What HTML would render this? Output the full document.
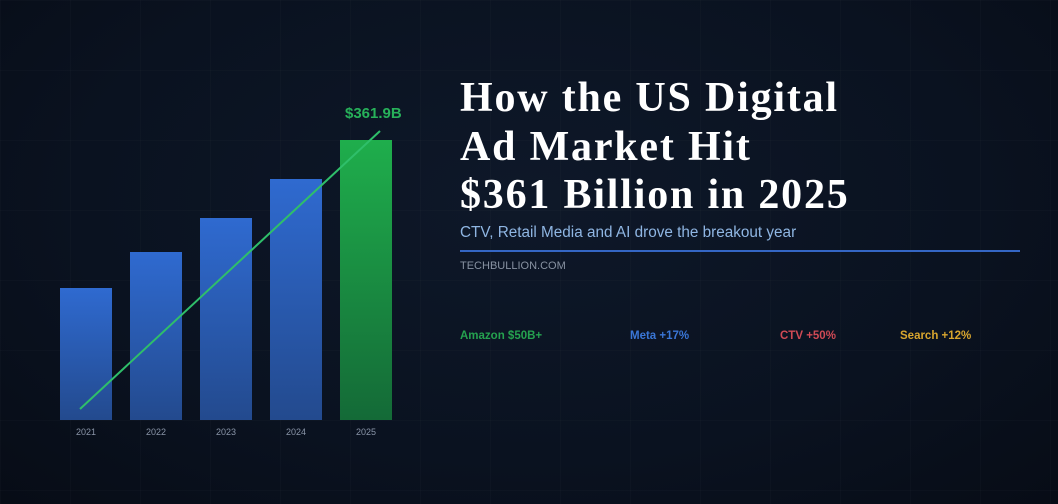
<!DOCTYPE html>
<html><head><meta charset="utf-8"><style>
html,body{margin:0;padding:0}
body{width:1058px;height:504px;overflow:hidden;position:relative;font-family:"Liberation Sans",sans-serif;
background:radial-gradient(ellipse at 50% 40%,#0e1829 0%,#0a1220 60%,#070c16 100%);}
.grid{position:absolute;inset:0;background-image:linear-gradient(rgba(255,255,255,0.015) 1px,transparent 1px),linear-gradient(90deg,rgba(255,255,255,0.015) 1px,transparent 1px);background-size:70px 70px;}
.bar{position:absolute;width:52px;bottom:84px;background:linear-gradient(#2f6ad0,#234a8e)}
.yr{position:absolute;top:427px;width:52px;text-align:center;font-size:9px;color:#8a95a8}
.t{position:absolute;left:460px;top:74px;font-family:"Liberation Serif",serif;font-weight:bold;font-size:42px;line-height:48.5px;color:#fff;letter-spacing:1.8px}
.sub{position:absolute;left:460px;top:224px;font-size:15.3px;color:#8fb6e3}
.rule{position:absolute;left:460px;top:250px;width:560px;height:2px;background:#3466c4}
.src{position:absolute;left:460px;top:260px;font-size:11px;color:#8892a2}
.st{position:absolute;top:330px;font-size:11.5px;font-weight:bold}
</style></head><body>
<div class="grid"></div>
<div class="bar" style="left:60px;height:132px"></div>
<div class="bar" style="left:130px;height:168px"></div>
<div class="bar" style="left:200px;height:202px"></div>
<div class="bar" style="left:270px;height:241px"></div>
<div class="bar" style="left:340px;height:280px;background:linear-gradient(#1fae4c,#146a37)"></div>
<svg style="position:absolute;left:0;top:0" width="1058" height="504"><line x1="80" y1="409" x2="380" y2="131" stroke="#2fbf6a" stroke-width="2"/></svg>
<div style="position:absolute;left:345px;top:105px;font-size:15px;font-weight:bold;color:#27b15a">$361.9B</div>
<div class="yr" style="left:60px">2021</div><div class="yr" style="left:130px">2022</div><div class="yr" style="left:200px">2023</div><div class="yr" style="left:270px">2024</div><div class="yr" style="left:340px">2025</div>
<div class="t">How the US Digital<br>Ad Market Hit<br>$361 Billion in 2025</div>
<div class="sub">CTV, Retail Media and AI drove the breakout year</div>
<div class="rule"></div>
<div class="src">TECHBULLION.COM</div>
<div class="st" style="left:460px;color:#25a24f">Amazon $50B+</div>
<div class="st" style="left:630px;color:#3a76d6">Meta +17%</div>
<div class="st" style="left:780px;color:#d04a55">CTV +50%</div>
<div class="st" style="left:900px;color:#d9a62e">Search +12%</div>
</body></html>
